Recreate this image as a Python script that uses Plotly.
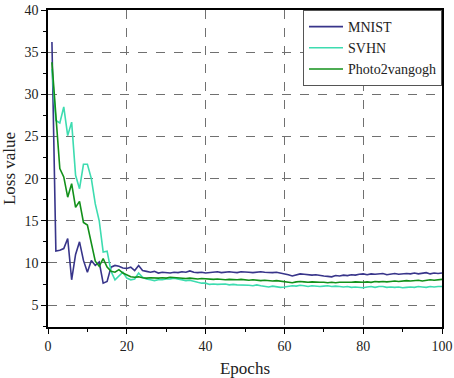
import plotly.graph_objects as go

epochs = list(range(1, 101))

mnist = [36.2, 11.4, 11.5, 11.7, 12.9, 8.0, 11.0, 12.5, 10.3, 8.9,
         10.3, 9.7, 10.1, 7.6, 7.8, 9.5, 9.7, 9.6, 9.4, 9.35,
         9.5, 9.1, 9.7, 9.1, 9.0, 8.9, 9.0, 8.8, 8.9, 8.85,
         8.8, 8.9, 8.85, 8.95, 8.9, 9.05, 8.9, 8.85, 8.9, 8.8,
         8.85, 8.9, 8.95, 8.85, 8.9, 8.95, 8.9, 8.85, 8.95, 8.95,
         8.9, 8.85, 8.9, 8.95, 8.9, 8.85, 8.85, 8.9, 8.8, 8.75,
         8.6, 8.45, 8.6, 8.7, 8.65, 8.6, 8.55, 8.6, 8.5, 8.45,
         8.4, 8.35, 8.5, 8.45, 8.55, 8.5, 8.6, 8.55, 8.65, 8.7,
         8.6, 8.7, 8.65, 8.7, 8.75, 8.6, 8.7, 8.75, 8.65, 8.7,
         8.75, 8.7, 8.8, 8.7, 8.75, 8.85, 8.7, 8.8, 8.75, 8.8]

svhn = [33.0, 26.9, 26.6, 28.5, 25.1, 26.7, 20.4, 18.8, 21.7, 21.7,
        20.0, 17.0, 15.0, 11.3, 11.4, 9.0, 8.0, 8.4, 8.9, 8.2,
        8.0, 8.1, 8.8, 8.3, 8.1, 8.0, 7.9, 8.0, 8.0, 8.1,
        8.1, 8.2, 8.1, 8.0, 7.9, 7.95, 7.8, 7.7, 7.6, 7.6,
        7.45, 7.5, 7.45, 7.5, 7.5, 7.4, 7.45, 7.4, 7.4, 7.4,
        7.35, 7.3, 7.4, 7.3, 7.2, 7.15, 7.25, 7.2, 7.1, 7.15,
        7.2, 7.3, 7.25, 7.35, 7.3, 7.2, 7.3, 7.25, 7.2, 7.25,
        7.3, 7.2, 7.25, 7.2, 7.15, 7.2, 7.1, 7.15, 7.1, 7.05,
        7.15, 7.2, 7.1, 7.2, 7.2, 7.1, 7.15, 7.1, 7.15, 7.05,
        7.1, 7.15, 7.1, 7.2, 7.15, 7.1, 7.2, 7.15, 7.2, 7.2]

photo2vangogh = [33.8, 27.3, 21.2, 20.2, 17.8, 19.4, 16.6, 17.3, 14.8, 14.5,
                 12.5, 10.2, 9.6, 10.5, 9.5, 9.0, 8.9, 9.2, 8.8, 8.55,
                 8.35, 8.3, 8.35, 8.25, 8.2, 8.25, 8.2, 8.2, 8.25, 8.2,
                 8.3, 8.25, 8.2, 8.2, 8.15, 8.2, 8.15, 8.1, 8.15, 8.1,
                 8.1, 8.05, 8.1, 8.05, 8.0, 8.05, 8.0, 8.0, 8.05, 8.0,
                 7.95, 8.0, 7.95, 7.9, 7.95, 7.9, 7.85, 7.9, 7.85, 7.8,
                 7.75, 7.65, 7.75, 7.8, 7.75, 7.7, 7.75, 7.7, 7.7, 7.7,
                 7.65, 7.7, 7.65, 7.7, 7.7, 7.65, 7.7, 7.75, 7.7, 7.7,
                 7.75, 7.7, 7.8, 7.75, 7.8, 7.75, 7.8, 7.85, 7.8, 7.85,
                 7.9, 7.85, 7.9, 7.95, 7.85, 7.9, 8.0, 7.95, 8.0, 8.05]

series = [("MNIST", mnist, "#38358a"),
          ("SVHN", svhn, "#3ddcb0"),
          ("Photo2vangogh", photo2vangogh, "#12901a")]

fig = go.Figure()
for name, vals, color in series:
    fig.add_trace(go.Scatter(x=epochs, y=vals, mode="lines", name=name,
                             line=dict(color=color, width=1.6)))

font = "Liberation Serif"
axis_common = dict(
    showline=True, mirror=True, linecolor="black", linewidth=1.5,
    ticks="outside", ticklen=5, tickwidth=1.2, tickcolor="black",
    showgrid=True, gridcolor="#707070", griddash="dash", gridwidth=1.2,
    zeroline=False, automargin=False,
    tickfont=dict(family=font, size=14, color="#222"),
)

fig.update_layout(
    width=454, height=378,
    margin=dict(l=48, r=12, t=10, b=51),
    paper_bgcolor="white", plot_bgcolor="white",
    font=dict(family=font, color="#222"),
    showlegend=True,
    legend=dict(x=1, y=1, xanchor="right", yanchor="top",
                bgcolor="white", bordercolor="#555", borderwidth=1,
                font=dict(family=font, size=14, color="#222"),
                tracegroupgap=0, itemwidth=34),
)
fig.update_xaxes(range=[0, 100], dtick=20, tick0=0,
                 minor=dict(ticks="outside", ticklen=3, dtick=10, tickcolor="black", showgrid=False),
                 title=dict(text="Epochs", font=dict(family=font, size=17), standoff=10),
                 **axis_common)
fig.update_yaxes(range=[2.4, 40], dtick=5, tick0=0,
                 minor=dict(ticks="outside", ticklen=3, dtick=2.5, tickcolor="black", showgrid=False),
                 title=dict(text="Loss value", font=dict(family=font, size=17), standoff=6),
                 **axis_common)

fig.write_html("out.html",
               config={"displayModeBar": False},
               post_script="document.body.style.margin='0px';document.body.style.overflow='hidden';")
